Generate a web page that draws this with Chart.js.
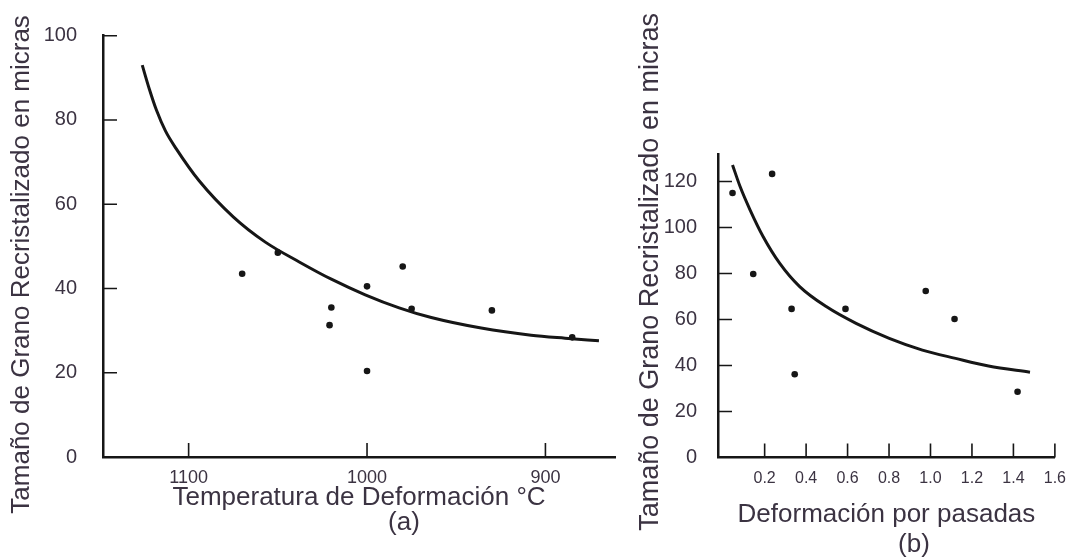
<!DOCTYPE html>
<html>
<head>
<meta charset="utf-8">
<title>Tamaño de grano recristalizado</title>
<script src="https://cdn.jsdelivr.net/npm/chart.js@4.4.1/dist/chart.umd.min.js"></script>
<style>
    html, body { margin: 0; padding: 0; background: #ffffff; }
    #page { position: relative; width: 1069px; height: 560px; overflow: hidden; }
    .panel { position: absolute; top: 0; height: 560px; }
    #panelA { left: 0; width: 630px; }
    #panelB { left: 630px; width: 439px; }
    .tag {
        position: absolute;
        transform: translate(-50%, -50%);
        font: 26px "Liberation Sans", Arial, sans-serif;
        color: #3b3342;
    }
</style>
</head>
<body>
<div id="page">
    <div class="panel" id="panelA"><canvas id="chartA"></canvas></div>
    <div class="panel" id="panelB"><canvas id="chartB"></canvas></div>
    <div class="tag" style="left: 404px; top: 521px;">(a)</div>
    <div class="tag" style="left: 914px; top: 543px;">(b)</div>
</div>
<script>
(function () {
    'use strict';

    // (a) grain size vs deformation temperature
    const tempPoints = [1070, 1050, 1020, 1021, 1000, 980, 975, 1000, 930, 885];
    const sizePointsA = [43.5, 48.5, 35.5, 31.3, 40.5, 45.2, 35.2, 20.4, 34.8, 28.4];
    const tempCurve = [1126, 1122, 1118, 1113, 1107, 1094, 1075, 1057, 1038, 1020, 1001, 982, 964, 936, 908, 889, 870];
    const sizeCurveA = [93.0, 87.3, 82.3, 77.4, 73.2, 65.5, 57.0, 51.0, 46.3, 42.2, 38.5, 35.4, 33.1, 30.6, 28.9, 28.2, 27.6];
    const tempTicks = [1100, 1000, 900];
    const sizeTicksA = [0, 20, 40, 60, 80, 100];

    // (b) grain size vs strain per pass
    const strainPoints = [0.045, 0.236, 0.145, 0.33, 0.345, 0.59, 0.977, 1.116, 1.42];
    const sizePointsB = [115, 123.3, 79.8, 64.6, 36.2, 64.6, 72.4, 60.2, 28.6];
    const strainCurve = [0.045, 0.082, 0.13, 0.193, 0.273, 0.369, 0.497, 0.641, 0.801, 0.961, 1.121, 1.28, 1.48];
    const sizeCurveB = [127.2, 117.7, 107.6, 96, 84.4, 74.3, 65.6, 58.3, 51.8, 46.7, 43.1, 39.8, 37.1];
    const strainTicks = [0.2, 0.4, 0.6, 0.8, 1.0, 1.2, 1.4, 1.6];
    const sizeTicksB = [0, 20, 40, 60, 80, 100, 120];

    const Y_TITLE = 'Tamaño de Grano Recristalizado en micras';
    const FONT = '"Liberation Sans", Arial, sans-serif';
    const INK = '#161616';
    const TEXT = '#3b3342';

    /**
     * Draws short tick marks pointing into the plot, like the printed figure.
     */
    const inwardTicks = {
        id: 'inwardTicks',
        afterDraw(chart, args, opts) {
            const { ctx, chartArea, scales } = chart;
            const len = opts.len || 14;
            ctx.save();
            ctx.strokeStyle = INK;
            ctx.lineWidth = 1.6;
            ctx.beginPath();
            scales.y.ticks.forEach(t => {
                if (t.value === 0) return;
                const py = scales.y.getPixelForValue(t.value);
                ctx.moveTo(chartArea.left, py);
                ctx.lineTo(chartArea.left + len, py);
            });
            scales.x.ticks.forEach(t => {
                const px = scales.x.getPixelForValue(t.value);
                ctx.moveTo(px, chartArea.bottom);
                ctx.lineTo(px, chartArea.bottom - len);
            });
            ctx.stroke();
            ctx.restore();
        }
    };

    function toXY(xs, ys) {
        return xs.map((x, i) => ({ x: x, y: ys[i] }));
    }

    /**
     * Builds one panel. Layout numbers pin the plot area to the scanned figure.
     */
    function makePanel(canvasId, cfg) {
        const ctx = document.getElementById(canvasId).getContext('2d');
        return new Chart(ctx, {
            type: 'scatter',
            data: {
                datasets: [
                    {
                        type: 'line',
                        data: toXY(cfg.curveX, cfg.curveY),
                        borderColor: INK,
                        borderWidth: 3,
                        pointRadius: 0,
                        cubicInterpolationMode: 'monotone',
                        fill: false
                    },
                    {
                        data: toXY(cfg.pointsX, cfg.pointsY),
                        backgroundColor: INK,
                        borderColor: INK,
                        pointRadius: 3.3,
                        borderWidth: 0
                    }
                ]
            },
            options: {
                responsive: true,
                maintainAspectRatio: false,
                animation: false,
                layout: { padding: cfg.padding },
                plugins: {
                    legend: { display: false },
                    tooltip: { enabled: false },
                    inwardTicks: { len: 14 }
                },
                scales: {
                    x: {
                        type: 'linear',
                        min: cfg.xMin,
                        max: cfg.xMax,
                        reverse: cfg.xReverse,
                        afterBuildTicks: s => { s.ticks = cfg.xTicks.map(v => ({ value: v })); },
                        afterFit: s => { s.height = cfg.xHeight; },
                        grid: { display: false },
                        border: { display: true, color: INK, width: 2.5 },
                        ticks: {
                            color: TEXT,
                            padding: cfg.xTickPad,
                            autoSkip: false,
                            maxRotation: 0,
                            font: { family: FONT, size: cfg.xTickSize },
                            callback: cfg.xFormat
                        },
                        title: {
                            display: true,
                            text: cfg.xTitle,
                            color: TEXT,
                            font: { family: FONT, size: 26 }
                        }
                    },
                    y: {
                        min: 0,
                        max: cfg.yMax,
                        afterBuildTicks: s => { s.ticks = cfg.yTicks.map(v => ({ value: v })); },
                        afterFit: s => { s.width = cfg.yWidth; },
                        grid: { display: false },
                        border: { display: true, color: INK, width: 2.5 },
                        ticks: {
                            color: TEXT,
                            padding: cfg.yTickPad,
                            font: { family: FONT, size: 20 }
                        },
                        title: {
                            display: true,
                            text: cfg.yTitle,
                            color: TEXT,
                            font: { family: FONT, size: cfg.yTitleSize }
                        }
                    }
                }
            },
            plugins: [inwardTicks]
        });
    }

    function init() {
        makePanel('chartA', {
            curveX: tempCurve, curveY: sizeCurveA,
            pointsX: tempPoints, pointsY: sizePointsA,
            xMin: 861, xMax: 1148, xReverse: true,
            xTicks: tempTicks, yTicks: sizeTicksA, yMax: 100,
            xFormat: v => String(v),
            xTickSize: 18, xTickPad: 2,
            xHeight: 60.6, yWidth: 100.6, yTickPad: 18,
            padding: { left: 2.4, right: 15, top: 35.7, bottom: 42.4 },
            xTitle: 'Temperatura de Deformación °C',
            // trailing spaces nudge the rotated title down, as printed
            yTitle: Y_TITLE + ' '.repeat(5),
            yTitleSize: 26
        });

        makePanel('chartB', {
            curveX: strainCurve, curveY: sizeCurveB,
            pointsX: strainPoints, pointsY: sizePointsB,
            xMin: -0.025, xMax: 1.6, xReverse: false,
            xTicks: strainTicks, yTicks: sizeTicksB, yMax: 132,
            xFormat: v => Number(v).toFixed(1),
            xTickSize: 16, xTickPad: 3,
            xHeight: 77.1, yWidth: 88, yTickPad: 13,
            padding: { left: 0, right: 12, top: 153.9, bottom: 25.4 },
            xTitle: 'Deformación por pasadas',
            // leading spaces lift the rotated title above the short axis
            yTitle: ' '.repeat(9) + Y_TITLE,
            yTitleSize: 27
        });
    }

    if (document.readyState === 'loading') {
        document.addEventListener('DOMContentLoaded', init);
    } else {
        init();
    }
})();
</script>
</body>
</html>
